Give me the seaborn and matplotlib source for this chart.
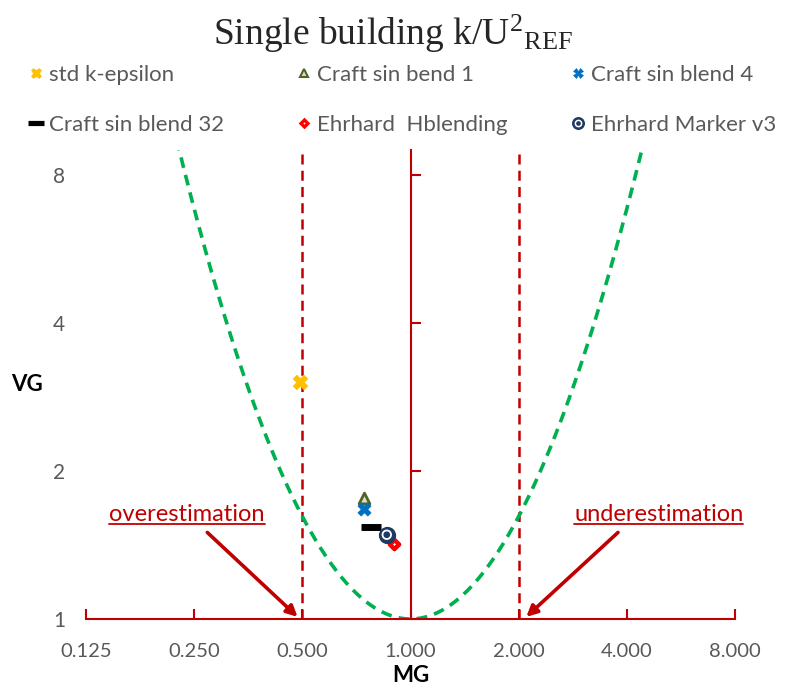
import numpy as np
import pandas as pd
import matplotlib
matplotlib.use("Agg")
import matplotlib.pyplot as plt
from matplotlib.lines import Line2D
from matplotlib.ticker import NullLocator, FixedLocator, FixedFormatter
import seaborn as sns

# ---- data -------------------------------------------------------------
models = ["std k-epsilon", "Craft sin bend 1", "Craft sin blend 4",
          "Craft sin blend 32", "Ehrhard  Hblending", "Ehrhard Marker v3"]
mg = [0.494, 0.740, 0.741, 0.777, 0.902, 0.859]
vg = [3.04, 1.765, 1.674, 1.541, 1.423, 1.484]

mg_ticks = [0.125, 0.25, 0.5, 1, 2, 4, 8]
mg_tick_labels = ["0.125", "0.250", "0.500", "1.000", "2.000", "4.000", "8.000"]
vg_ticks = [1, 2, 4, 8]
vg_tick_labels = ["1", "2", "4", "8"]
factor2_bounds = [0.5, 2.0]

# ---- style ------------------------------------------------------------
sns.set_style("white")
plt.rcParams["font.family"] = ["Lato", "DejaVu Sans"]
plt.rcParams["mathtext.fontset"] = "custom"
plt.rcParams["mathtext.rm"] = "Liberation Serif"
plt.rcParams["mathtext.it"] = "Liberation Serif:italic"

RED = "#C00000"
GRAY = "#595959"
GREEN = "#00B050"

fig = plt.figure(figsize=(7.85, 6.87), dpi=100)
ax = fig.add_axes([86 / 785, 68 / 687, 649 / 785, 469 / 687])
ax.set_xscale("log", base=2)
ax.set_yscale("log", base=2)
ax.set_xlim(0.125, 8)
ax.set_ylim(1, 9)

# VG = exp((ln MG)^2) parabola
mg_curve = np.geomspace(0.125, 8, 500)
curve = pd.DataFrame({"MG": mg_curve, "VG": np.exp(np.log(mg_curve) ** 2)})
sns.lineplot(data=curve, x="MG", y="VG", ax=ax, color=GREEN, lw=2.6,
             linestyle=(0, (3, 2)), sort=False, zorder=2)

# factor-of-two bounds
for b in factor2_bounds:
    ax.axvline(b, color=RED, lw=1.8, linestyle=(0, (4, 2.5)), zorder=1)

# model markers
styles = {
    "std k-epsilon": dict(marker="X", s=110, color="#FFC000", edgecolor="#FFC000", linewidth=0.5),
    "Craft sin bend 1": dict(marker="^", s=60, color="#D9DFCB", edgecolor="#4F6228", linewidth=2),
    "Craft sin blend 4": dict(marker="X", s=90, color="#0070C0", edgecolor="#0070C0", linewidth=0.5),
    "Craft sin blend 32": dict(marker="_", s=220, color="black", linewidth=5),
    "Ehrhard  Hblending": dict(marker="D", s=22, color="white", edgecolor="#FF0000", linewidth=3.2),
    "Ehrhard Marker v3": dict(marker="o", s=130, color="#1F3864", edgecolor="#1F3864", linewidth=1),
}
df = pd.DataFrame({"model": models, "MG": mg, "VG": vg})
for name, st in styles.items():
    sub = df[df["model"] == name]
    sns.scatterplot(data=sub, x="MG", y="VG", ax=ax, legend=False, zorder=5, **st)
# white ring of the bullseye
sub = df[df["model"] == "Ehrhard Marker v3"]
sns.scatterplot(data=sub, x="MG", y="VG", ax=ax, legend=False, zorder=6,
                marker="o", s=38, color="none", edgecolor="white", linewidth=1.3)

# ---- axes decoration --------------------------------------------------
for s in ["top", "right"]:
    ax.spines[s].set_visible(False)
ax.spines["bottom"].set_color(RED)
ax.spines["bottom"].set_linewidth(1.5)
ax.spines["left"].set_position(("data", 1))
ax.spines["left"].set_color(RED)
ax.spines["left"].set_linewidth(1.5)

ax.xaxis.set_major_locator(FixedLocator(mg_ticks))
ax.xaxis.set_major_formatter(FixedFormatter(mg_tick_labels))
ax.xaxis.set_minor_locator(NullLocator())
ax.yaxis.set_major_locator(FixedLocator(vg_ticks))
ax.yaxis.set_minor_locator(NullLocator())
ax.tick_params(axis="x", bottom=True, direction="in", length=7, width=1.5, color=RED,
               labelcolor=GRAY, labelsize=14.5, pad=17)
ax.tick_params(axis="y", left=True, direction="in", length=7, width=1.5, color=RED,
               labelleft=False)

sec = ax.secondary_yaxis(0)
sec.yaxis.set_major_locator(FixedLocator(vg_ticks))
sec.yaxis.set_major_formatter(FixedFormatter(vg_tick_labels))
sec.yaxis.set_minor_locator(NullLocator())
sec.spines["left"].set_visible(False)
sec.tick_params(axis="y", length=0, pad=15, labelcolor=GRAY, labelsize=15)

ax.set_xlabel("MG", fontsize=16, fontweight="bold", color="black")
ax.xaxis.set_label_coords(0.5, -0.121)
ax.xaxis.label.set_va("center")
ax.set_ylabel("VG", fontsize=16, fontweight="bold", color="black", rotation=0)
ax.yaxis.set_label_coords(-0.091, 0.5)
ax.yaxis.label.set_va("center")
ax.yaxis.label.set_ha("center")

# ---- annotations ------------------------------------------------------
arrow = dict(arrowstyle="-|>", color=RED, lw=2.6, mutation_scale=16,
             shrinkA=0, shrinkB=0)
t_over = ax.annotate("overestimation", xy=(0.485, 1.01), xytext=(0.239, 1.635),
                     ha="center", va="center", fontsize=17, color=RED)
ax.annotate("", xy=(0.485, 1.01), xytext=(0.272, 1.50), arrowprops=arrow)
t_under = ax.annotate("underestimation", xy=(2.1, 1.01), xytext=(4.91, 1.635),
                      ha="center", va="center", fontsize=17, color=RED)
ax.annotate("", xy=(2.10, 1.01), xytext=(3.78, 1.50), arrowprops=arrow)

# ---- title ------------------------------------------------------------
fig.text(0.5, 1 - 34 / 687, r"Single building k/U$^{2}$$_{\mathrm{REF}}$",
         ha="center", va="center", fontsize=27, family="Liberation Serif")

# ---- legend (three columns, two rows) ---------------------------------
def handle(name):
    st = styles[name]
    size = np.sqrt(st["s"])
    h = Line2D([], [], linestyle="none", marker=st["marker"], markersize=size * 0.75,
               markerfacecolor=st["color"], markeredgecolor=st.get("edgecolor", st["color"]),
               markeredgewidth=st["linewidth"] * 0.75)
    if name == "Ehrhard Marker v3":
        ring = Line2D([], [], linestyle="none", marker="o", markersize=4.5,
                      markerfacecolor="none", markeredgecolor="white", markeredgewidth=1.1)
        return (h, ring)
    return h

columns = [(models[0], models[3]), (models[1], models[4]), (models[2], models[5])]
col_x = [28 / 785, 296 / 785, 570 / 785]
for cx, names in zip(col_x, columns):
    fig.legend([handle(n) for n in names], list(names), loc="upper left",
               bbox_to_anchor=(cx, 1 - 65 / 687), frameon=False, fontsize=16,
               labelcolor=GRAY, handlelength=0.7, handletextpad=0.25,
               labelspacing=1.35, borderpad=0, borderaxespad=0)

# ---- underline the annotation words -----------------------------------
fig.canvas.draw()
renderer = fig.canvas.get_renderer()
inv = fig.transFigure.inverted()
for t in (t_over, t_under):
    bb = t.get_window_extent(renderer)
    (x0, y0), (x1, _) = inv.transform([(bb.x0, bb.y0 + 1), (bb.x1, bb.y0 + 1)])
    fig.add_artist(Line2D([x0, x1], [y0, y0], color=RED, lw=1.3,
                          transform=fig.transFigure))

fig.savefig("out.png", dpi=100)
